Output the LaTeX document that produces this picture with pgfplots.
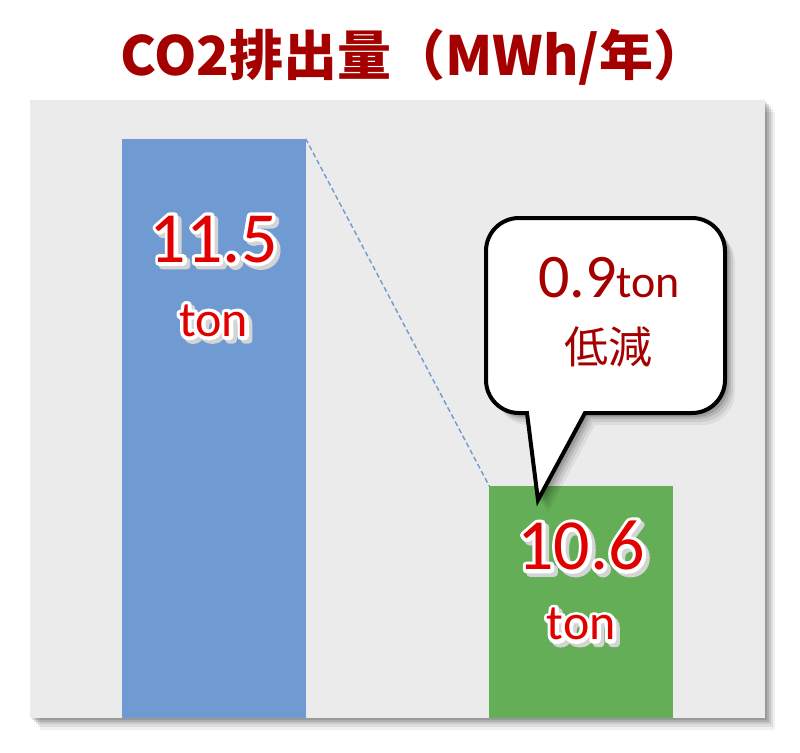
\documentclass[border=0pt]{standalone}
\usepackage{fontspec}
\setmainfont{Carlito}
\newfontfamily\cjk{Noto Sans CJK JP}
\usepackage{pgfplots}
\pgfplotsset{compat=1.18}
\usetikzlibrary{shadows}

\definecolor{bgray}{RGB}{235,235,235}
\definecolor{barblue}{RGB}{112,155,210}
\definecolor{bargreen}{RGB}{100,174,88}
\definecolor{lblred}{RGB}{225,0,0}
\definecolor{darkred}{RGB}{165,0,0}

% red text with a white outline and a soft shadow (stroked copies)
\newcommand\strk[2]{\special{pdf:literal direct 2 Tr 3.6 w 1 j #1 RG}#2\special{pdf:literal direct 0 Tr 0.4 w 0 j 0 0 0 RG}}
\newcommand\outlined[1]{%
  \makebox[0pt][l]{\hspace*{1.8pt}\raisebox{-1.8pt}{\textcolor{black!17}{\strk{0.83 0.83 0.83}{#1}}}}%
  \makebox[0pt][l]{\textcolor{white}{\strk{1 1 1}{#1}}}%
  \textcolor{lblred}{#1}}

\tikzset{softshadow/.style={
    drop shadow={shadow xshift=1pt, shadow yshift=-1pt, opacity=0.12, fill=black},
    drop shadow={shadow xshift=2pt, shadow yshift=-2pt, opacity=0.12, fill=black},
    drop shadow={shadow xshift=3pt, shadow yshift=-3pt, opacity=0.1, fill=black},
    drop shadow={shadow xshift=4pt, shadow yshift=-4.5pt, opacity=0.08, fill=black},
    drop shadow={shadow xshift=5pt, shadow yshift=-6pt, opacity=0.06, fill=black}}}

\begin{document}
\begin{tikzpicture}
\path[use as bounding box] (-15pt,-17pt) rectangle (385pt,359pt);

\begin{axis}[
    at={(0,0)}, anchor=south west,
    scale only axis, width=367.5pt, height=309pt,
    xmin=-0.5, xmax=1.5, ymin=10, ymax=11.6,
    ticks=none,
    axis line style={draw=none},
    axis background/.style={fill=bgray, softshadow},
    ybar, bar width=0.5,
]
\addplot[fill=barblue, draw=none, bar shift=0pt] coordinates {(0,11.5)};
\addplot[fill=bargreen, draw=none, bar shift=0pt] coordinates {(1,10.6)};
\addplot[sharp plot, barblue, line width=0.7pt, dash pattern=on 2.5pt off 1.5pt]
    coordinates {(0.25,11.5) (0.75,10.6)};

\node[anchor=base, inner sep=0pt, font=\fontsize{36}{36}\selectfont] at (axis cs:0,11.18) {\outlined{11.5}};
\node[anchor=base, inner sep=0pt, font=\fontsize{25}{25}\selectfont] at (axis cs:0,10.988) {\outlined{ton}};
\node[anchor=base, inner sep=0pt, font=\fontsize{36}{36}\selectfont] at (axis cs:1,10.384) {\outlined{10.6}};
\node[anchor=base, inner sep=0pt, font=\fontsize{25}{25}\selectfont] at (axis cs:1,10.202) {\outlined{ton}};
\end{axis}

% title
\node[font=\cjk\bfseries\fontsize{27}{27}\selectfont, text=darkred] at (192pt,330.5pt) {CO2排出量（MWh/年）};

% callout
\def\rr{16.5pt}
\draw[draw=black, line width=2pt, fill=white, line join=miter, softshadow]
  (248.5pt,152.5pt) -- (254pt,109pt) -- (277.5pt,152.5pt)
  -- (331pt,152.5pt) arc[start angle=270, end angle=360, radius=\rr]
  -- (347.5pt,233.5pt) arc[start angle=0, end angle=90, radius=\rr]
  -- (244.5pt,250pt) arc[start angle=90, end angle=180, radius=\rr]
  -- (228pt,169pt) arc[start angle=180, end angle=270, radius=\rr]
  -- cycle;
\node[anchor=base, inner sep=0pt, text=darkred] at (289.5pt,210.5pt)
  {\fontsize{31}{31}\selectfont 0.9\fontsize{23}{23}\selectfont ton};
\node[inner sep=0pt, text=darkred, font=\cjk\fontsize{22}{22}\selectfont] at (289.25pt,185.5pt) {低減};
\end{tikzpicture}
\end{document}
